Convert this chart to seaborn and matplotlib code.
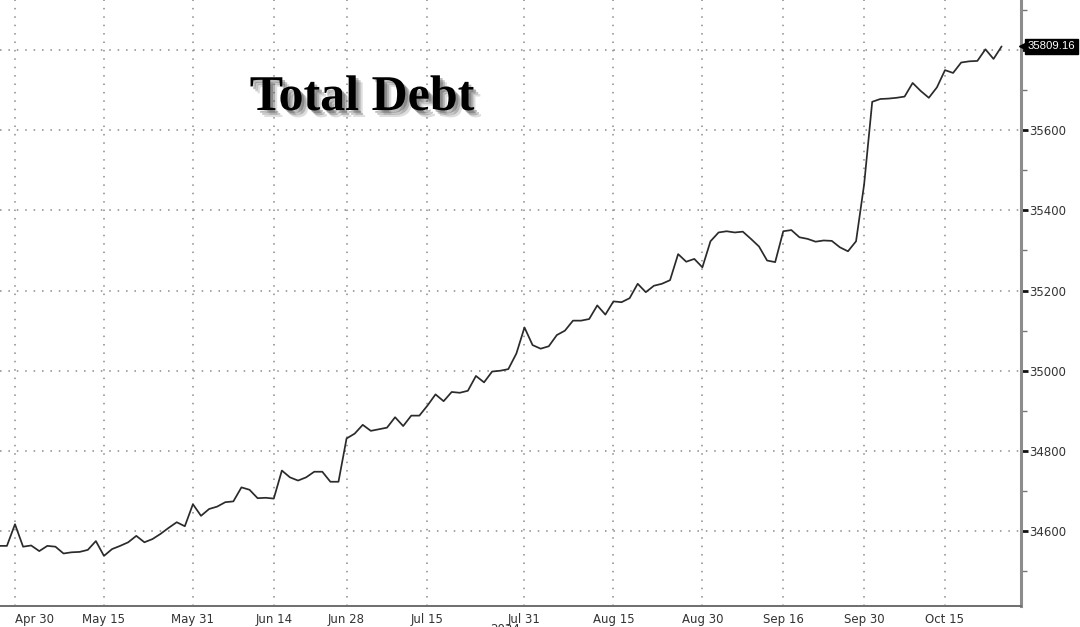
import pandas as pd
import matplotlib
matplotlib.use("Agg")
import matplotlib.pyplot as plt
import matplotlib.patheffects as pe
from matplotlib.ticker import FixedLocator, MultipleLocator
import seaborn as sns

# trading days shown (US federal holidays skipped, as in the source chart)
start_date = "2024-04-26"
end_date = "2024-10-24"
holidays = ["2024-05-27", "2024-06-19", "2024-07-04", "2024-09-02", "2024-10-14"]

# total public debt, $bn
debt = [
    34563, 34563, 34617, 34561, 34564, 34550, 34563, 34561, 34544, 34547,
    34548, 34553, 34575, 34538, 34555, 34563, 34572, 34588, 34572, 34580,
    34593, 34608, 34622, 34612, 34667, 34638, 34655, 34661, 34672, 34674,
    34709, 34703, 34682, 34683, 34681, 34751, 34734, 34726, 34734, 34748,
    34748, 34723, 34723, 34831, 34843, 34865, 34850, 34854, 34858, 34884,
    34862, 34888, 34888, 34913, 34941, 34924, 34947, 34945, 34950, 34987,
    34971, 34998, 35000, 35004, 35043, 35108, 35064, 35055, 35061, 35089,
    35100, 35125, 35125, 35129, 35163, 35140, 35173, 35171, 35181, 35217,
    35196, 35212, 35217, 35226, 35291, 35272, 35279, 35258, 35323, 35345,
    35348, 35345, 35347, 35329, 35310, 35275, 35271, 35348, 35351, 35333,
    35329, 35322, 35325, 35324, 35308, 35298, 35323, 35465, 35671, 35678,
    35679, 35681, 35684, 35718, 35698, 35681, 35707, 35750, 35743, 35769,
    35772, 35773, 35802, 35778, 35809.16,
]

tick_dates = ["2024-04-30", "2024-05-15", "2024-05-31", "2024-06-14",
              "2024-06-28", "2024-07-15", "2024-07-31", "2024-08-15",
              "2024-08-30", "2024-09-16", "2024-09-30", "2024-10-15"]

y_ticks = [34600, 34800, 35000, 35200, 35400, 35600, 35800]

dates = pd.bdate_range(start_date, end_date, freq="C", holidays=holidays)
df = pd.DataFrame({"date": dates, "debt": debt})
df["pos"] = range(len(df))

tick_pos = [dates.get_loc(pd.Timestamp(d)) for d in tick_dates]
tick_labels = [pd.Timestamp(d).strftime("%b %d") for d in tick_dates]
minor_pos = [(a + b) / 2 for a, b in zip(tick_pos[:-1], tick_pos[1:])]
minor_pos.append(tick_pos[-1] + (tick_pos[-1] - minor_pos[-1]))

sns.set_style("white")
plt.rcParams["font.family"] = ["DejaVu Sans"]

fig = plt.figure(figsize=(10.8, 6.27), dpi=100)
ax = fig.add_axes([0, 21 / 627, 1021 / 1080, 606 / 627])

sns.lineplot(data=df, x="pos", y="debt", ax=ax, color="#2b2b2b",
             linewidth=1.25)

# x scale: Apr 30 lands ~15px from left edge, ~8.09px per trading day
x0 = tick_pos[0]
px_per_day = (945 - 15) / (tick_pos[-1] - tick_pos[0])
ax.set_xlim(x0 - 15 / px_per_day, x0 + (1021 - 15) / px_per_day)
ax.set_ylim(34413, 35925)

ax.set_xlabel("")
ax.set_ylabel("")

last = df["debt"].iloc[-1]

ax.xaxis.set_major_locator(FixedLocator(tick_pos))
ax.set_xticklabels(tick_labels)
ax.get_xticklabels()[0].set_horizontalalignment("left")
ax.xaxis.set_minor_locator(FixedLocator(minor_pos))
ax.yaxis.set_major_locator(FixedLocator(y_ticks))
ax.yaxis.set_minor_locator(MultipleLocator(100))
ax.yaxis.tick_right()
# the 35800 label sits under the last-value tag, so leave it blank
ax.set_yticklabels(["" if abs(v - last) < 30 else str(v) for v in y_ticks])

ax.tick_params(axis="x", which="major", direction="out", length=4, width=1,
               color="#555555", labelsize=8.5, labelcolor="#333333", pad=1)
ax.tick_params(axis="x", which="minor", direction="in", length=4, width=1,
               color="#555555")
ax.tick_params(axis="y", which="major", direction="out", length=5, width=2,
               color="#111111", labelsize=8.5, labelcolor="#333333", pad=1)
ax.tick_params(axis="y", which="minor", direction="out", length=4, width=1,
               color="#777777")

ax.grid(True, which="major", color="#8a8a8a", linestyle=(0, (1, 4.5)),
        linewidth=1.1)

for side in ["top", "left"]:
    ax.spines[side].set_visible(False)
ax.spines["right"].set_color("#8c8c8c")
ax.spines["right"].set_linewidth(2.2)
ax.spines["bottom"].set_color("#6e6e6e")
ax.spines["bottom"].set_linewidth(1.4)

# last value tag on the right axis
ax.plot([1.004], [last], marker="<", markersize=8, color="black",
        transform=ax.get_yaxis_transform(), clip_on=False, zorder=5)
ax.text(1.0068, last, f"{last:.2f}", transform=ax.get_yaxis_transform(),
        ha="left", va="center", fontsize=8.2, color="white", zorder=6,
        family="Liberation Sans",
        bbox=dict(boxstyle="square,pad=0.22", fc="black", ec="black"))

# title with drop shadow
fig.text(362 / 1080, 1 - 110 / 627, "Total Debt", ha="center", va="baseline",
         fontsize=36, fontweight="bold", family="Liberation Serif",
         color="black",
         path_effects=[
             pe.SimplePatchShadow(offset=(5, -5), shadow_rgbFace="0.35", alpha=0.2),
             pe.SimplePatchShadow(offset=(3.5, -3.5), shadow_rgbFace="0.3", alpha=0.3),
             pe.SimplePatchShadow(offset=(2, -2), shadow_rgbFace="0.25", alpha=0.35),
             pe.Normal(),
         ])

# year label below the axis, mostly cut off like the source
fig.text(505 / 1080, 4 / 627, "2024", ha="center", va="top", fontsize=8.5,
         color="#333333")

fig.savefig("out.png", dpi=100)
